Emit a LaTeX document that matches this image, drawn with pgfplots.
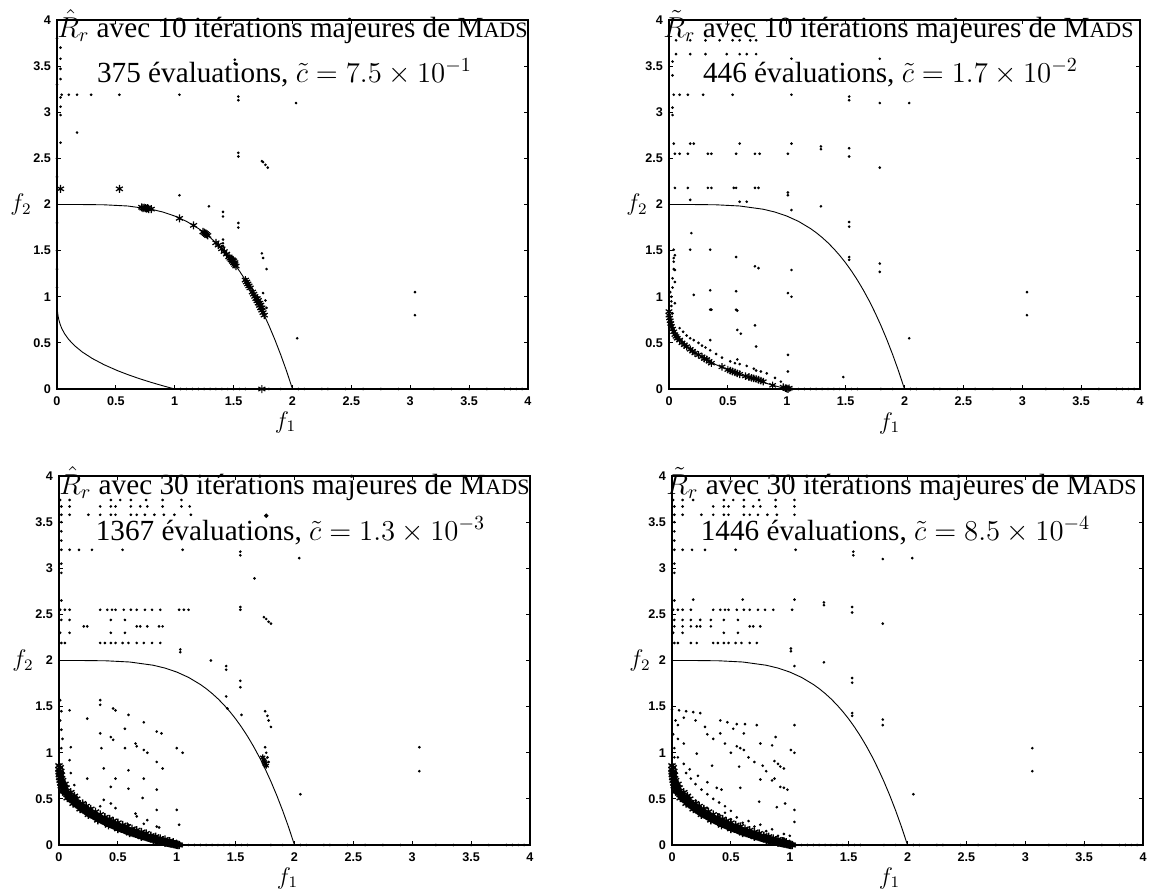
\documentclass[border=0pt]{standalone}
\usepackage{fontspec}
\setmainfont{Liberation Serif}
\newfontfamily\tickfont{Liberation Sans}
\usepackage{pgfplots}
\pgfplotsset{compat=1.18}
\pgfplotsset{
  panel/.style={
    width=235.5pt, height=184.5pt, scale only axis,
    xmin=0, xmax=4, ymin=0, ymax=4,
    xtick={0,0.5,1,1.5,2,2.5,3,3.5,4},
    ytick={0,0.5,1,1.5,2,2.5,3,3.5,4},
    xticklabels={0,0.5,1,1.5,2,2.5,3,3.5,4},
    yticklabels={0,0.5,1,1.5,2,2.5,3,3.5,4},
    tick align=inside,
    major tick length=2pt,
    tick style={black, line width=0.4pt},
    axis line style={line width=0.6pt},
    tick label style={font=\tickfont\bfseries\fontsize{6.3}{7}\selectfont},
    xticklabel style={yshift=-0.5pt},
    yticklabel style={xshift=0.5pt},
    /pgf/number format/assume math mode=true,
    clip=false,
  },
  dots/.style={only marks, mark=*, mark size=0.45pt, black},
  stars/.style={only marks, mark=asterisk, mark size=2pt, line width=0.6pt, black},
  front/.style={black, line width=0.45pt, no marks},
}
\newcommand\tfont{\fontsize{14.6}{16}\selectfont}
\newcommand\mads{M{\fontsize{11}{12}\selectfont ADS}}
\newcommand\outerfront{\addplot[front] coordinates {(0,2)(0.2,1.9998)(0.4,1.9968)(0.6,1.9838)(0.8,1.9488)(0.9,1.918)(1.0,1.875)(1.1,1.817)(1.2,1.7408)(1.25,1.695)(1.3,1.643)(1.35,1.585)(1.4,1.5198)(1.45,1.4474)(1.5,1.3672)(1.55,1.2785)(1.6,1.1808)(1.65,1.0735)(1.7,0.956)(1.75,0.8276)(1.8,0.6878)(1.85,0.5358)(1.9,0.371)(1.95,0.193)(2.0,0)};}
\newcommand\innerfront{\addplot[front] coordinates {(0,1)(0.001,0.9)(0.003,0.8558)(0.008,0.8)(0.015,0.7534)(0.027,0.7)(0.04,0.658)(0.064,0.6)(0.1,0.5358)(0.15,0.4687)(0.216,0.4)(0.3,0.3306)(0.4,0.2632)(0.512,0.2)(0.6,0.1566)(0.7,0.1121)(0.8,0.0717)(0.9,0.0345)(1.0,0)};}
\newcommand\ribbon{\addplot[stars, mark size=2.1pt, line width=0.7pt] coordinates {(0,0.86)(0,0.82)(0.002,0.79)(0.004,0.76)(0.006,0.73)(0.01,0.70)(0.015,0.67)(0.02,0.64)(0.03,0.62)(0.04,0.60)(0.05,0.58)(0.06,0.56)(0.07,0.545)(0.08,0.53)(0.09,0.515)(0.10,0.50)(0.11,0.49)(0.12,0.48)(0.13,0.465)(0.14,0.455)(0.15,0.445)(0.16,0.435)(0.17,0.425)(0.18,0.415)(0.19,0.405)(0.20,0.395)(0.21,0.385)(0.22,0.375)(0.23,0.365)(0.24,0.358)(0.25,0.35)(0.26,0.342)(0.27,0.335)(0.28,0.328)(0.29,0.32)(0.30,0.313)(0.31,0.306)(0.32,0.30)(0.33,0.293)(0.34,0.286)(0.35,0.28)(0.36,0.273)(0.37,0.266)(0.38,0.26)(0.39,0.254)(0.40,0.248)(0.41,0.242)(0.42,0.236)(0.43,0.23)(0.44,0.225)(0.45,0.22)(0.46,0.214)(0.47,0.208)(0.48,0.203)(0.49,0.198)(0.50,0.193)(0.51,0.188)(0.52,0.183)(0.53,0.178)(0.54,0.173)(0.55,0.168)(0.56,0.163)(0.57,0.158)(0.58,0.154)(0.59,0.149)(0.60,0.145)(0.61,0.14)(0.62,0.136)(0.63,0.131)(0.64,0.127)(0.65,0.123)(0.66,0.119)(0.67,0.115)(0.68,0.111)(0.69,0.107)(0.70,0.103)(0.71,0.099)(0.72,0.095)(0.73,0.091)(0.74,0.087)(0.75,0.083)(0.76,0.079)(0.77,0.076)(0.78,0.072)(0.79,0.068)(0.80,0.065)(0.81,0.061)(0.82,0.058)(0.83,0.054)(0.84,0.051)(0.85,0.048)(0.86,0.044)(0.87,0.041)(0.88,0.038)(0.89,0.035)(0.90,0.032)(0.91,0.029)(0.92,0.026)(0.93,0.023)(0.94,0.02)(0.95,0.017)(0.96,0.014)(0.97,0.011)(0.98,0.008)(0.99,0.005)(1.0,0.003)(1.01,0.002)
(0.01,0.78)(0.02,0.72)(0.04,0.64)(0.08,0.56)(0.12,0.50)(0.18,0.44)(0.25,0.38)(0.32,0.32)(0.40,0.27)(0.48,0.225)(0.56,0.18)(0.64,0.145)(0.72,0.11)(0.80,0.08)(0.88,0.05)(0.96,0.02)
(0.03,0.58)(0.07,0.51)(0.12,0.45)(0.18,0.39)(0.25,0.33)(0.33,0.27)(0.42,0.215)(0.5,0.175)(0.6,0.13)(0.7,0.09)(0.8,0.055)(0.9,0.025)
(0.02,0.76)(0.05,0.66)(0.1,0.57)(0.15,0.5)(0.2,0.45)(0.27,0.39)(0.35,0.33)(0.43,0.28)(0.5,0.24)(0.58,0.2)(0.66,0.16)(0.74,0.125)(0.82,0.09)(0.9,0.06)(0.97,0.03)
(0.01,0.84)(0.015,0.8)(0.03,0.7)(0.06,0.62)(0.13,0.53)(0.23,0.42)(0.31,0.36)(0.39,0.3)(0.46,0.26)(0.54,0.215)(0.62,0.175)(0.7,0.14)(0.78,0.1)(0.86,0.07)(0.94,0.04)(1.0,0.01)(1.02,0.0)};}
\newcommand\zerorow{\addplot[dots] coordinates {(1.05,0)(1.1,0)(1.15,0)(1.2,0)(1.25,0)(1.3,0)(1.35,0)(1.4,0)(1.45,0)(1.5,0)(1.55,0)(1.6,0)(1.8,0)(1.9,0)(2.05,0)(2.1,0)(2.25,0)(2.3,0)(2.45,0)(2.6,0)(2.75,0)(2.9,0)(3.2,0)(3.35,0)(3.5,0)(3.65,0)(3.8,0)(3.85,0)(3.9,0)(3.95,0)};}
\begin{document}
\begin{tikzpicture}
\useasboundingbox (0,0) rectangle (575.5pt,445.5pt);
% ---------------- top left
\begin{axis}[panel, name=tl, at={(28.5pt,251pt)}, anchor=south west]
\outerfront
\innerfront
\zerorow
\addplot[dots] coordinates {(0.03,3.7)(0.03,3.58)(0.03,3.47)(0.03,3.36)(0.03,3.16)(0.03,3.06)(0.03,2.97)(0.03,2.67)
(0.04,3.19)(0.10,3.19)(0.17,3.19)(0.29,3.19)(0.53,3.19)(1.04,3.19)(0.17,2.78)
(1.54,3.17)(1.54,3.13)(1.51,3.53)(1.51,3.57)(2.03,3.1)(1.54,2.56)(1.54,2.52)
(1.74,2.47)(1.75,2.46)(1.77,2.43)(1.79,2.40)(1.04,2.1)(1.29,1.98)(1.41,1.92)(1.41,1.87)
(1.54,1.80)(1.54,1.75)(1.41,1.62)(1.41,1.58)(1.41,1.55)(1.74,1.47)(1.75,1.42)(1.78,1.30)
(1.75,1.04)(1.77,0.96)(1.78,0.88)(2.04,0.55)(3.04,1.05)(3.04,0.80)
(0,1.1)(0,1.3)(0,1.5)(0,1.8)(0,2.3)(0,2.5)(0,3.3)(0,3.8)};
\addplot[stars] coordinates {(0.03,2.17)(0.53,2.17)
(0.72,1.97)(0.73,1.96)(0.74,1.965)(0.75,1.96)(0.76,1.955)(0.77,1.96)(0.78,1.95)(0.80,1.95)
(1.04,1.85)(1.16,1.774)(1.24,1.704)(1.25,1.695)(1.26,1.685)(1.27,1.675)(1.28,1.664)
(1.35,1.585)(1.37,1.56)(1.40,1.52)(1.42,1.49)(1.44,1.462)(1.46,1.432)(1.47,1.417)(1.48,1.40)(1.49,1.384)(1.50,1.367)(1.51,1.35)(1.52,1.333)
(1.49,1.40)(1.51,1.37)(1.50,1.39)
(1.60,1.181)(1.61,1.16)(1.62,1.139)(1.63,1.118)(1.64,1.096)
(1.66,1.051)(1.67,1.028)(1.68,1.004)(1.69,0.98)(1.70,0.956)(1.71,0.931)(1.72,0.906)(1.73,0.88)(1.74,0.854)(1.75,0.828)(1.76,0.801)
(1.70,0.98)(1.72,0.93)(1.74,0.88)(1.71,0.96)(1.73,0.91)
(1.74,0.0)};
\end{axis}
\node[anchor=base west, inner sep=0pt] at ([yshift=-8.5pt]tl.north west) {\tfont $\hat{R}_r$ avec 10 itérations majeures de \mads};
\node[anchor=base, inner sep=0pt] at ([yshift=-31pt, xshift=-4pt]tl.north) {\tfont 375 évaluations, $\tilde{c} = 7.5\times 10^{-1}$};
\node at ([yshift=-16.5pt, xshift=-3.5pt]tl.south) {\fontsize{12}{13}\selectfont $f_1$};
\node at ([xshift=-18pt]tl.west) {\fontsize{12}{13}\selectfont $f_2$};
% ---------------- top right
\begin{axis}[panel, name=tr, at={(334.5pt,251pt)}, anchor=south west]
\outerfront
\innerfront
\zerorow
\addplot[dots] coordinates {(0.06,3.78)(0.18,3.78)(0.31,3.78)(0.43,3.78)(0.54,3.78)(0.6,3.78)(0.69,3.78)(0.74,3.78)
(0.06,3.63)(0.18,3.63)(0.31,3.63)(0.49,3.63)(0.6,3.63)(0.66,3.63)(0.74,3.63)(1.04,3.58)(1.79,3.58)
(0.04,3.19)(0.09,3.19)(0.16,3.19)(0.29,3.19)(0.54,3.19)(1.04,3.19)(1.53,3.17)(1.53,3.13)(1.79,3.1)(2.04,3.1)
(0.03,3.55)(0.03,3.4)(0.03,3.05)(0.03,2.97)
(0.04,2.66)(0.18,2.66)(0.21,2.66)(0.6,2.66)(1.04,2.66)(1.29,2.63)(1.29,2.6)
(0.05,2.55)(0.09,2.55)(0.16,2.55)(0.33,2.55)(0.36,2.55)(0.57,2.55)(0.73,2.55)(0.77,2.55)(1.01,2.55)(1.53,2.61)(1.53,2.52)(1.79,2.4)
(0.05,2.18)(0.16,2.18)(0.33,2.18)(0.36,2.18)(0.55,2.18)(0.57,2.18)(0.73,2.18)(0.76,2.18)(1.01,2.13)(1.01,2.1)
(0.6,2.03)(0.66,2.03)(0.18,2.05)(1.04,1.94)(1.29,1.98)(1.53,1.81)(1.53,1.76)(0.19,1.69)
(0.04,1.51)(0.05,1.45)(0.04,1.38)(0.05,1.29)(0.18,1.51)(0.35,1.51)(0.57,1.43)(0.73,1.33)(0.76,1.31)(1.04,1.29)(1.53,1.43)(1.53,1.4)(1.79,1.36)(1.79,1.27)
(0.05,1.16)(0.21,1.02)(0.35,1.07)(0.57,1.06)(1.01,1.04)(1.04,1.0)(0.05,0.93)(0.35,0.86)(0.36,0.86)(0.57,0.86)(0.58,0.85)(0.73,0.69)(0.58,0.64)(0.61,0.6)
(0.35,0.53)(0.74,0.46)(1.01,0.37)(1.01,0.19)(0.58,0.32)(0.74,0.2)(1.48,0.13)(2.04,0.55)(3.04,1.05)(3.04,0.80)
(0.02,0.9)(0.02,1.0)(0.03,1.1)(0.03,1.2)(0.04,1.3)(0.04,1.42)(0.02,0.95)(0.01,1.05)(0.03,0.82)
(0.09,0.66)(0.12,0.62)(0.15,0.58)(0.18,0.55)(0.21,0.53)(0.25,0.5)(0.28,0.47)(0.31,0.45)(0.35,0.42)(0.40,0.38)(0.45,0.34)(0.52,0.30)(0.56,0.28)(0.60,0.27)(0.66,0.25)(0.72,0.22)(0.78,0.19)(0.83,0.17)(0.90,0.12)(0.95,0.08)};
\addplot[stars, mark size=1.9pt] coordinates {(0.0,0.84)(0.0,0.80)(0.005,0.77)(0.01,0.74)(0.015,0.71)(0.02,0.68)(0.03,0.65)(0.04,0.62)(0.05,0.59)(0.06,0.57)(0.07,0.55)(0.09,0.53)(0.11,0.50)(0.13,0.48)(0.15,0.46)(0.18,0.43)(0.20,0.41)(0.22,0.39)(0.25,0.37)(0.28,0.35)(0.30,0.33)(0.32,0.32)(0.34,0.30)(0.36,0.28)(0.45,0.24)(0.50,0.21)(0.52,0.20)(0.54,0.19)(0.56,0.18)(0.58,0.17)(0.60,0.16)(0.65,0.14)(0.68,0.13)(0.70,0.12)(0.72,0.115)(0.74,0.11)(0.76,0.10)(0.78,0.09)(0.80,0.08)(0.88,0.04)(0.97,0.02)(0.99,0.01)(1.0,0.005)(1.01,0.0)(1.02,0.01)};
\end{axis}
\node[anchor=base west, inner sep=0pt] at ([yshift=-8.5pt, xshift=-3pt]tr.north west) {\tfont $\tilde{R}_r$ avec 10 itérations majeures de \mads};
\node[anchor=base, inner sep=0pt] at ([yshift=-31pt, xshift=-7pt]tr.north) {\tfont 446 évaluations, $\tilde{c} = 1.7\times 10^{-2}$};
\node at ([yshift=-17pt, xshift=-7.5pt]tr.south) {\fontsize{12}{13}\selectfont $f_1$};
\node at ([xshift=-16pt]tr.west) {\fontsize{12}{13}\selectfont $f_2$};
% ---------------- bottom left
\begin{axis}[panel, name=bl, at={(29.5pt,23pt)}, anchor=south west]
\outerfront
\innerfront
\zerorow
\addplot[dots] coordinates {(0.01,3.74)(0.09,3.74)(0.44,3.74)(0.52,3.74)(0.61,3.74)(0.74,3.74)(0.88,3.74)(1.04,3.74)
(0.02,3.67)(0.09,3.67)(0.35,3.67)(0.44,3.67)(0.48,3.67)(0.61,3.67)(0.69,3.67)(0.75,3.67)(0.88,3.67)(1.04,3.67)(1.11,3.67)
(0.02,3.58)(0.09,3.58)(0.25,3.58)(0.35,3.58)(0.44,3.58)(0.48,3.58)(0.61,3.58)(0.66,3.58)(0.73,3.58)(0.81,3.58)(0.89,3.58)(0.98,3.58)(1.12,3.58)
(0.02,3.2)(0.09,3.2)(0.17,3.2)(0.28,3.2)(0.54,3.2)(1.05,3.2)(1.54,3.18)(1.54,3.14)(2.04,3.11)(1.66,2.89)
(0.02,3.5)(0.02,3.4)(0.02,3.3)(0.02,3.05)(0.02,2.95)(0.02,2.65)
(0.01,2.55)(0.05,2.55)(0.09,2.55)(0.35,2.55)(0.41,2.55)(0.45,2.55)(0.48,2.55)(0.55,2.55)(0.61,2.55)(0.66,2.55)(0.73,2.55)(0.79,2.55)(0.86,2.55)(1.02,2.55)(1.06,2.55)(1.1,2.55)
(0.02,2.44)(0.09,2.44)(0.44,2.44)(0.56,2.44)
(0.21,2.37)(0.24,2.37)(0.66,2.37)(0.69,2.37)(0.75,2.37)(0.85,2.37)(0.88,2.37)
(0.01,2.30)(0.09,2.30)(0.44,2.30)(0.56,2.30)
(0.02,2.19)(0.05,2.19)(0.35,2.19)(0.39,2.19)(0.44,2.19)(0.48,2.19)(0.54,2.19)(0.59,2.19)(0.66,2.19)(0.72,2.19)(0.79,2.19)(0.86,2.19)
(1.03,2.12)(1.03,2.09)(1.29,2.0)(1.42,1.94)(1.42,1.9)(1.54,2.58)(1.54,2.55)(1.54,1.78)(1.54,1.71)(1.74,2.47)(1.76,2.45)(1.78,2.42)(1.8,2.4)(1.42,1.61)
(0.01,1.57)(0.02,1.45)(0.01,1.35)(0.02,1.25)(0.03,1.15)(0.02,1.05)(0.09,1.46)(0.24,1.37)(0.35,1.57)(0.35,1.52)(0.46,1.48)(0.48,1.46)(0.59,1.41)(0.72,1.33)(0.83,1.23)(0.87,1.21)(0.35,1.21)(0.44,1.17)(0.46,1.14)(0.56,1.26)(0.65,1.1)(0.66,1.07)(0.72,1.03)(0.75,1.0)(1.0,1.05)(1.05,1.0)(0.36,1.05)(0.56,1.05)(0.83,0.9)(0.88,0.83)(0.1,1.06)(0.09,0.92)(0.1,0.78)(0.13,0.65)(0.15,0.52)(0.24,0.72)(0.38,0.83)(0.59,0.81)(0.72,0.72)(0.83,0.6)(0.44,0.63)(0.59,0.61)(0.48,0.72)(0.38,0.49)(0.44,0.45)(0.48,0.4)(0.35,0.42)(0.24,0.42)(0.71,0.51)(0.65,0.34)(0.66,0.31)(0.75,0.27)(0.83,0.38)(0.83,0.2)(0.85,0.19)(1.0,0.38)(1.02,0.22)(0.59,0.22)(0.72,0.23)(0.32,0.3)
(1.75,1.06)(1.76,1.0)(1.77,0.95)(1.78,0.9)(1.76,0.85)(1.75,1.45)(1.77,1.4)(1.78,1.35)(1.8,1.28)(1.43,1.48)(1.55,1.41)(2.05,0.55)(3.06,1.06)(3.06,0.8)};
\addplot[only marks, mark=*, mark size=0.9pt] coordinates {(1.76,3.57)};
\ribbon
\addplot[stars, mark size=1.5pt] coordinates {(1.73,0.95)(1.74,0.92)(1.75,0.88)(1.76,0.86)(1.745,0.9)};
\end{axis}
\node[anchor=base west, inner sep=0pt] at ([yshift=-9pt]bl.north west) {\tfont $\hat{R}_r$ avec 30 itérations majeures de \mads};
\node[anchor=base, inner sep=0pt] at ([yshift=-32pt, xshift=-2pt]bl.north) {\tfont 1367 évaluations, $\tilde{c} = 1.3\times 10^{-3}$};
\node at ([yshift=-16.5pt, xshift=-3.5pt]bl.south) {\fontsize{12}{13}\selectfont $f_1$};
\node at ([xshift=-18pt]bl.west) {\fontsize{12}{13}\selectfont $f_2$};
% ---------------- bottom right
\begin{axis}[panel, name=br, at={(336pt,23pt)}, anchor=south west]
\outerfront
\innerfront
\zerorow
\addplot[dots] coordinates {(0.01,3.74)(0.09,3.74)(0.18,3.74)(0.44,3.74)(0.52,3.74)(0.61,3.74)(0.74,3.74)(0.88,3.74)(1.04,3.74)
(0.02,3.67)(0.09,3.67)(0.35,3.67)(0.44,3.67)(0.48,3.67)(0.61,3.67)(0.69,3.67)(0.75,3.67)(0.88,3.67)(1.04,3.67)
(0.02,3.58)(0.09,3.58)(0.25,3.58)(0.35,3.58)(0.44,3.58)(0.48,3.58)(0.61,3.58)(0.66,3.58)(0.73,3.58)(0.81,3.58)(0.89,3.58)(1.04,3.58)
(0.02,3.2)(0.09,3.2)(0.17,3.2)(0.28,3.2)(0.54,3.2)(1.05,3.2)(1.54,3.18)(1.54,3.14)(2.04,3.11)(1.79,3.1)
(0.02,3.5)(0.02,3.4)(0.02,3.3)(0.02,3.05)(0.02,2.95)(0.02,2.65)(0.18,2.66)(0.6,2.66)(1.04,2.66)(1.29,2.63)(1.29,2.6)
(0.01,2.55)(0.05,2.55)(0.09,2.55)(0.16,2.55)(0.35,2.55)(0.41,2.55)(0.45,2.55)(0.48,2.55)(0.55,2.55)(0.61,2.55)(0.66,2.55)(0.73,2.55)(0.79,2.55)(0.86,2.55)(1.02,2.55)(1.53,2.58)(1.53,2.52)(1.79,2.4)
(0.02,2.44)(0.09,2.44)(0.16,2.44)(0.24,2.44)(0.33,2.44)(0.44,2.44)(0.56,2.44)
(0.02,2.37)(0.09,2.37)(0.16,2.37)(0.21,2.37)(0.24,2.37)(0.33,2.37)(0.66,2.37)(0.69,2.37)(0.75,2.37)
(0.01,2.30)(0.09,2.30)(0.44,2.30)(0.56,2.30)
(0.02,2.19)(0.05,2.19)(0.16,2.19)(0.21,2.19)(0.35,2.19)(0.39,2.19)(0.44,2.19)(0.48,2.19)(0.54,2.19)(0.59,2.19)(0.66,2.19)(0.72,2.19)
(1.01,2.13)(1.01,2.1)(1.04,1.94)(1.29,1.98)(1.53,1.81)(1.53,1.76)
(0.0,1.47)(0.06,1.46)(0.12,1.45)(0.18,1.44)(0.24,1.43)(0.41,1.35)(0.47,1.33)(0.55,1.31)(0.62,1.31)(0.72,1.30)(0.28,1.28)(0.52,1.26)(0.61,1.21)(1.04,1.30)(0.88,1.17)
(0.01,1.2)(0.05,1.15)(0.1,1.1)(0.41,1.21)(0.55,1.07)(0.58,1.05)(0.61,1.03)(0.85,1.08)(1.01,1.03)(1.04,1.0)(0.75,1.10)(0.21,0.99)(0.34,0.86)(0.57,0.85)(0.77,0.86)(0.87,0.91)(0.9,0.88)(0.92,0.85)(0.95,0.83)(0.75,0.71)(0.87,0.72)(0.92,0.63)(0.95,0.62)(0.98,0.60)(0.42,0.6)(0.58,0.62)(0.74,0.47)(1.04,0.38)(1.04,0.25)(0.89,0.41)(0.96,0.45)
(0.12,0.78)(0.16,0.72)(0.2,0.66)(0.25,0.6)(0.3,0.55)(0.35,0.5)(0.4,0.46)(0.45,0.42)(0.5,0.37)
(0.05,0.95)(0.1,0.88)(0.15,0.82)(0.22,0.75)(0.3,0.68)(0.38,0.62)
(0.2,0.48)(0.3,0.4)(0.4,0.33)(0.5,0.28)(0.6,0.24)(0.7,0.2)(0.8,0.15)(0.9,0.1)(0.95,0.07)
(0.45,0.35)(0.55,0.3)(0.65,0.26)(0.75,0.22)(0.85,0.17)(0.95,0.12)(1.0,0.1)
(0.02,1.05)(0.03,1.35)(0.02,0.95)(0.05,1.3)(0.1,1.38)(0.2,1.35)(0.3,1.2)(0.35,1.15)(0.45,1.1)(0.5,1.0)(0.65,0.95)(0.7,0.9)(0.8,0.8)(0.85,0.7)
(1.53,1.43)(1.53,1.4)(1.79,1.36)(1.79,1.3)(2.05,0.55)(3.06,1.05)(3.06,0.8)};
\ribbon
\end{axis}
\node[anchor=base west, inner sep=0pt] at ([yshift=-9pt, xshift=-3pt]br.north west) {\tfont $\tilde{R}_r$ avec 30 itérations majeures de \mads};
\node[anchor=base, inner sep=0pt] at ([yshift=-32pt, xshift=-6pt]br.north) {\tfont 1446 évaluations, $\tilde{c} = 8.5\times 10^{-4}$};
\node at ([yshift=-16.5pt, xshift=-9pt]br.south) {\fontsize{12}{13}\selectfont $f_1$};
\node at ([xshift=-16pt]br.west) {\fontsize{12}{13}\selectfont $f_2$};
\end{tikzpicture}
\end{document}
